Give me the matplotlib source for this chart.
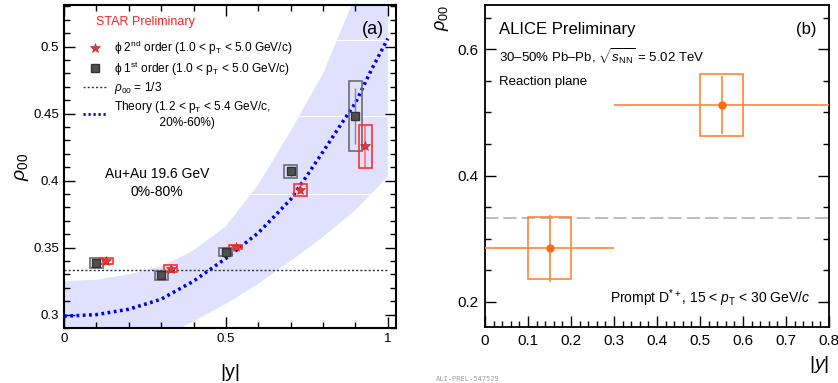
import matplotlib
matplotlib.use("Agg")
import matplotlib.pyplot as plt
from matplotlib.patches import Rectangle
from matplotlib.lines import Line2D
from matplotlib.ticker import MultipleLocator

plt.rcParams['font.family'] = ['Liberation Sans', 'DejaVu Sans']
plt.rcParams['mathtext.fontset'] = 'custom'
plt.rcParams['mathtext.rm'] = 'Liberation Sans'
plt.rcParams['mathtext.it'] = 'Liberation Sans:italic'

# ---- (a) STAR phi rho00 vs |y| ----
y_first = [0.10, 0.30, 0.50, 0.70, 0.90]
rho_first = [0.3386, 0.3293, 0.3470, 0.4070, 0.4480]
stat_first = [0.002, 0.002, 0.002, 0.004, 0.021]
sys_first = [0.0037, 0.0032, 0.0030, 0.0048, 0.026]

y_second = [0.13, 0.33, 0.53, 0.73, 0.93]
rho_second = [0.3398, 0.3343, 0.3505, 0.3928, 0.4256]
stat_second = [0.002, 0.002, 0.002, 0.003, 0.0155]
sys_second = [0.0021, 0.0027, 0.0018, 0.0044, 0.016]

theory_y = [0, 0.1, 0.2, 0.3, 0.4, 0.5, 0.6, 0.65, 0.7, 0.75, 0.8, 0.85, 0.9, 0.95, 1.0]
theory_rho = [0.2988, 0.300, 0.304, 0.3115, 0.325, 0.342, 0.361, 0.3734, 0.386, 0.4036,
              0.4216, 0.440, 0.458, 0.483, 0.506]

band_y = [0, 0.1, 0.2, 0.3, 0.368, 0.4, 0.5, 0.6, 0.7, 0.8, 0.9, 1.0]
band_hi = [0.325, 0.326, 0.330, 0.336, 0.344, 0.348, 0.366, 0.397, 0.437, 0.480, 0.538, 0.60]
band_lo = [0.262, 0.265, 0.272, 0.283, 0.291, 0.295, 0.308, 0.323, 0.340, 0.358, 0.378, 0.403]

# ---- (b) ALICE D*+ rho00 vs |y| ----
alice_y = [0.15, 0.55]
alice_ylo = [0.0, 0.3]
alice_yhi = [0.3, 0.8]
alice_rho = [0.285, 0.512]
alice_stat = [0.053, 0.046]
alice_sys = [0.049, 0.049]

fig = plt.figure(figsize=(8.38, 3.83), dpi=100)
axa = fig.add_axes([0.0764, 0.1436, 0.396, 0.843])
axb = fig.add_axes([0.5788, 0.146, 0.4105, 0.841])

# panel a
band = axa.fill_between(band_y, band_lo, band_hi, color='#dfe1ff', lw=0, zorder=1)
for lev in [0.39, 0.448, 0.505]:
    ln = axa.axhline(lev, color='white', lw=0.8, zorder=1.5)
    ln.set_clip_path(band.get_paths()[0], axa.transData)
axa.plot([0, 1], [1/3, 1/3], color='#333333', ls=(0, (1.5, 1.5)), lw=1.0, zorder=2)
axa.plot(theory_y, theory_rho, color='#0000ee', ls=(0, (0.8, 1.0)), lw=2.5, zorder=3)

w = 0.02
for x, r, s in zip(y_first, rho_first, sys_first):
    axa.add_patch(Rectangle((x - w, r - s), 2 * w, 2 * s, fill=False, ec='#6b6b6b', lw=1.2, zorder=4))
axa.errorbar(y_first, rho_first, yerr=stat_first, fmt='none', ecolor='#888888', elinewidth=1.0, zorder=5)
axa.plot(y_first, rho_first, 's', color='#505050', mec='#333333', ms=6, zorder=6)

for x, r, s in zip(y_second, rho_second, sys_second):
    axa.add_patch(Rectangle((x - w, r - s), 2 * w, 2 * s, fill=False, ec='#ff3030', lw=1.2, zorder=4))
axa.errorbar(y_second, rho_second, yerr=stat_second, fmt='none', ecolor='#ff8080', elinewidth=1.5, zorder=5)
axa.plot(y_second, rho_second, '*', color='#ee3333', mec='#aa2222', mew=0.4, ms=7, zorder=6)

axa.set_xlim(0, 1.025)
axa.set_ylim(0.29, 0.531)
axa.xaxis.set_minor_locator(MultipleLocator(0.1))
axa.yaxis.set_minor_locator(MultipleLocator(0.01))
axa.set_xticks([0, 0.5, 1])
axa.set_xticklabels(['0', '0.5', '1'])
axa.set_yticks([0.3, 0.35, 0.4, 0.45, 0.5])
axa.set_yticklabels(['0.3', '0.35', '0.4', '0.45', '0.5'])
axa.tick_params(which='both', direction='in', top=True, right=True, labelsize=9.5, width=1.0)
axa.tick_params(which='major', length=8)
axa.tick_params(which='minor', length=4)
for sp in axa.spines.values():
    sp.set_linewidth(1.5)
axa.set_xlabel('|y|', fontsize=14, labelpad=14)
axa.set_ylabel(r'$\rho_{00}$', fontsize=14, labelpad=2)

axa.text(0.244, 0.947, 'STAR Preliminary', color='#ff2020', fontsize=9, ha='center', va='center',
         transform=axa.transAxes)
axa.text(0.93, 0.925, '(a)', fontsize=13, ha='center', va='center', transform=axa.transAxes)
axa.text(0.28, 0.45, 'Au+Au 19.6 GeV\n0%-80%', fontsize=10, ha='center', va='center',
         linespacing=1.35, transform=axa.transAxes)

handles = [
    Line2D([], [], ls='none', marker='*', color='#ee3333', mec='#aa2222', mew=0.4, ms=7),
    Line2D([], [], ls='none', marker='s', color='#505050', mec='#333333', ms=6),
    Line2D([], [], color='#333333', ls=(0, (1.5, 1.5)), lw=1.0),
    Line2D([], [], color='#0000ee', ls=(0, (0.8, 1.0)), lw=2.0),
]
labels = [
    'ϕ 2$^{\\rm nd}$ order (1.0 < p$_{\\rm T}$ < 5.0 GeV/c)',
    'ϕ 1$^{\\rm st}$ order (1.0 < p$_{\\rm T}$ < 5.0 GeV/c)',
    r'$\rho_{00}$ = 1/3',
    'Theory (1.2 < p$_{\\rm T}$ < 5.4 GeV/c,\n              20%-60%)',
]
axa.legend(handles, labels, loc='upper left', bbox_to_anchor=(0.04, 0.915), frameon=False,
           fontsize=8.6, handlelength=2.0, handletextpad=0.55, labelspacing=0.22, borderpad=0)

# panel b
axb.axhline(1/3, color='#b3b3b3', ls=(0, (8, 3)), lw=1.2, zorder=1)
bw = 0.05
for x, r, s in zip(alice_y, alice_rho, alice_sys):
    axb.add_patch(Rectangle((x - bw, r - s), 2 * bw, 2 * s, fill=False, ec='#ff7a26', lw=1.1, zorder=3))
xerr = [[x - lo for x, lo in zip(alice_y, alice_ylo)], [hi - x for x, hi in zip(alice_y, alice_yhi)]]
axb.errorbar(alice_y, alice_rho, xerr=xerr, yerr=alice_stat, fmt='o', color='#ff6a13', ms=5,
             ecolor='#ff8f45', elinewidth=1.3, capsize=0, zorder=4)

axb.set_xlim(0, 0.8)
axb.set_ylim(0.16, 0.67)
axb.xaxis.set_minor_locator(MultipleLocator(0.02))
axb.yaxis.set_minor_locator(MultipleLocator(0.05))
axb.set_xticks([0, 0.1, 0.2, 0.3, 0.4, 0.5, 0.6, 0.7, 0.8])
axb.set_xticklabels(['0', '0.1', '0.2', '0.3', '0.4', '0.5', '0.6', '0.7', '0.8'])
axb.set_yticks([0.2, 0.4, 0.6])
axb.set_yticklabels(['0.2', '0.4', '0.6'])
axb.tick_params(which='both', direction='in', top=False, right=True, labelsize=11, width=1.0)
axb.tick_params(which='major', length=8, pad=5)
axb.tick_params(which='minor', length=4)
for sp in axb.spines.values():
    sp.set_linewidth(1.3)
axb.set_xlabel(r'$|\it{y}|$', fontsize=14, loc='right', labelpad=4)
axb.set_ylabel(r'$\it{\rho}_{\rm 00}$', fontsize=13, loc='top', labelpad=4)

axb.text(0.04, 0.925, 'ALICE Preliminary', fontsize=12, ha='left', va='center', transform=axb.transAxes)
axb.text(0.965, 0.925, '(b)', fontsize=12, ha='right', va='center', transform=axb.transAxes)
axb.text(0.04, 0.84, r'30–50% Pb–Pb, $\sqrt{s_{\rm NN}}$ = 5.02 TeV', fontsize=9.5, ha='left',
         va='center', transform=axb.transAxes)
axb.text(0.04, 0.76, 'Reaction plane', fontsize=9.5, ha='left', va='center', transform=axb.transAxes)
axb.text(0.945, 0.09, r'Prompt D$^{*+}$, 15 < $p_{\rm T}$ < 30 GeV/$c$', fontsize=10, ha='right',
         va='center', transform=axb.transAxes)

fig.text(0.5585, 0.0105, 'ALI-PREL-547529', fontsize=5, color='#a0a0a0', family='DejaVu Sans Mono',
         ha='center', va='center')

fig.savefig('out.png', dpi=100)
